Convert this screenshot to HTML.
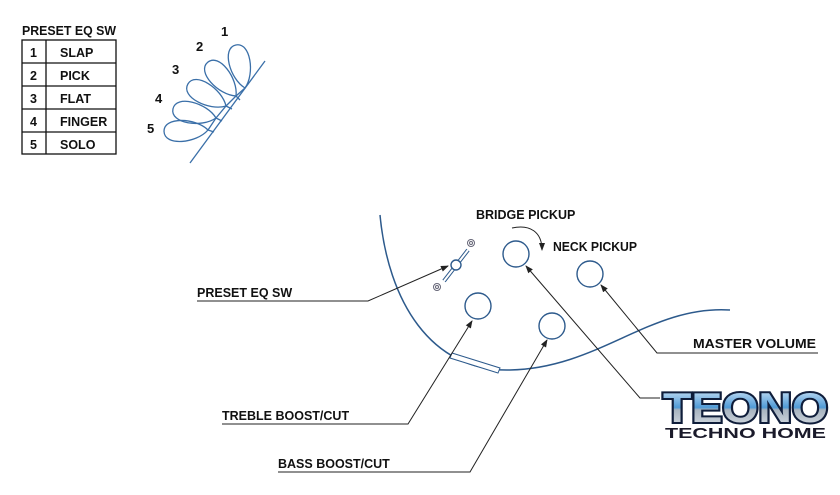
<!DOCTYPE html>
<html><head><style>
body{margin:0;background:#fff;}
svg{display:block;}
text{font-family:"Liberation Sans",sans-serif;font-weight:bold;}
</style></head><body>
<svg width="840" height="495" viewBox="0 0 840 495">
<defs>
<marker id="a" markerWidth="8" markerHeight="8" refX="7" refY="4" orient="auto" markerUnits="userSpaceOnUse"><path d="M0,1 L8,4 L0,7z" fill="#222"/></marker>
<linearGradient id="g" x1="0" y1="0" x2="0" y2="1"><stop offset="0" stop-color="#e8f4ff"/><stop offset="0.5" stop-color="#4f9ad6"/><stop offset="0.55" stop-color="#a8b4c0"/><stop offset="1" stop-color="#dde3ea"/></linearGradient>
<path id="p" d="M0,0 C-13,-12 -15,-44 0,-44 C15,-44 13,-12 0,0Z"/>
</defs>
<text x="22" y="35" font-size="13" fill="#111" textLength="94" lengthAdjust="spacingAndGlyphs">PRESET EQ SW</text>
<g stroke="#111" stroke-width="1.3" fill="none">
<rect x="22" y="40" width="94" height="114"/>
<line x1="46" y1="40" x2="46" y2="154"/>
<line x1="22" y1="63" x2="116" y2="63"/><line x1="22" y1="86" x2="116" y2="86"/><line x1="22" y1="109" x2="116" y2="109"/><line x1="22" y1="132" x2="116" y2="132"/>
</g>
<g font-size="12.5" fill="#111">
<text x="30" y="57">1</text><text x="60" y="57">SLAP</text>
<text x="30" y="80">2</text><text x="60" y="80">PICK</text>
<text x="30" y="103">3</text><text x="60" y="103">FLAT</text>
<text x="30" y="126">4</text><text x="60" y="126">FINGER</text>
<text x="30" y="149">5</text><text x="60" y="149">SOLO</text>
</g>
<g font-size="13" fill="#111"><text x="221" y="36">1</text><text x="196" y="51">2</text><text x="172" y="74">3</text><text x="155" y="103">4</text><text x="147" y="133">5</text></g>
<g stroke="#3a6fa8" stroke-width="1.3" fill="none">
<line x1="190" y1="163" x2="265" y2="61"/>
<use href="#p" transform="translate(245,88) rotate(-12)"/>
<use href="#p" transform="translate(236,96) rotate(-40)"/>
<use href="#p" transform="translate(226,106) rotate(-60)"/>
<use href="#p" transform="translate(216,118) rotate(-78)"/>
<use href="#p" transform="translate(208,130) rotate(-92)"/>
<path d="M245,88 L236,96 L226,106 L216,118 L208,130 M236,96 L240,100 M226,106 L232,109 M216,118 L222,121 M208,130 L214,132"/>
</g>
<path d="M380,215 C388,300 430,372 510,370 C600,368 650,305 730,310" stroke="#2d5a8c" stroke-width="1.5" fill="none"/>
<path d="M452,353 L500,368 L498,373 L450,358Z" stroke="#2d5a8c" stroke-width="1" fill="#fff"/>
<g stroke="#2d5a8c" stroke-width="1.4" fill="#fff">
<circle cx="516" cy="254" r="13"/><circle cx="590" cy="274" r="13"/><circle cx="478" cy="306" r="13"/><circle cx="552" cy="326" r="13"/>
<line x1="468" y1="250" x2="444" y2="281" stroke-width="4" stroke="#2d5a8c"/>
<line x1="468" y1="250" x2="444" y2="281" stroke-width="2" stroke="#fff"/>
<circle cx="456" cy="265" r="5"/>
</g>
<g stroke="#667" stroke-width="1" fill="none"><circle cx="471" cy="243" r="3.5"/><circle cx="471" cy="243" r="1.5"/><circle cx="437" cy="287" r="3.5"/><circle cx="437" cy="287" r="1.5"/></g>
<g stroke="#222" stroke-width="1" fill="none">
<polyline points="197,301 368,301 448,266" marker-end="url(#a)"/>
<polyline points="222,424 408,424 472,321" marker-end="url(#a)"/>
<polyline points="278,472 470,472 547,340" marker-end="url(#a)"/>
<polyline points="818,353 657,353 601,285" marker-end="url(#a)"/>
<polyline points="660,398 640,398 526,266" marker-end="url(#a)"/>
<path d="M512,228 C530,224 542,232 542,250" marker-end="url(#a)"/>
</g>
<g font-size="12.5" fill="#111">
<text x="476" y="219">BRIDGE PICKUP</text>
<text x="553" y="251" textLength="84" lengthAdjust="spacingAndGlyphs">NECK PICKUP</text>
<text x="197" y="297">PRESET EQ SW</text>
<text x="693" y="348" textLength="123" lengthAdjust="spacingAndGlyphs">MASTER VOLUME</text>
<text x="222" y="420">TREBLE BOOST/CUT</text>
<text x="278" y="468">BASS BOOST/CUT</text>
</g>
<text x="663" y="422" font-size="42" font-family="Liberation Sans" font-weight="bold" fill="url(#g)" stroke="#0f1d3a" stroke-width="4" paint-order="stroke" textLength="165" lengthAdjust="spacingAndGlyphs">TEONO</text>
<text x="665" y="438" font-size="15" fill="#1a1a2a" textLength="161" lengthAdjust="spacingAndGlyphs">TECHNO HOME</text>
</svg>
</body></html>
